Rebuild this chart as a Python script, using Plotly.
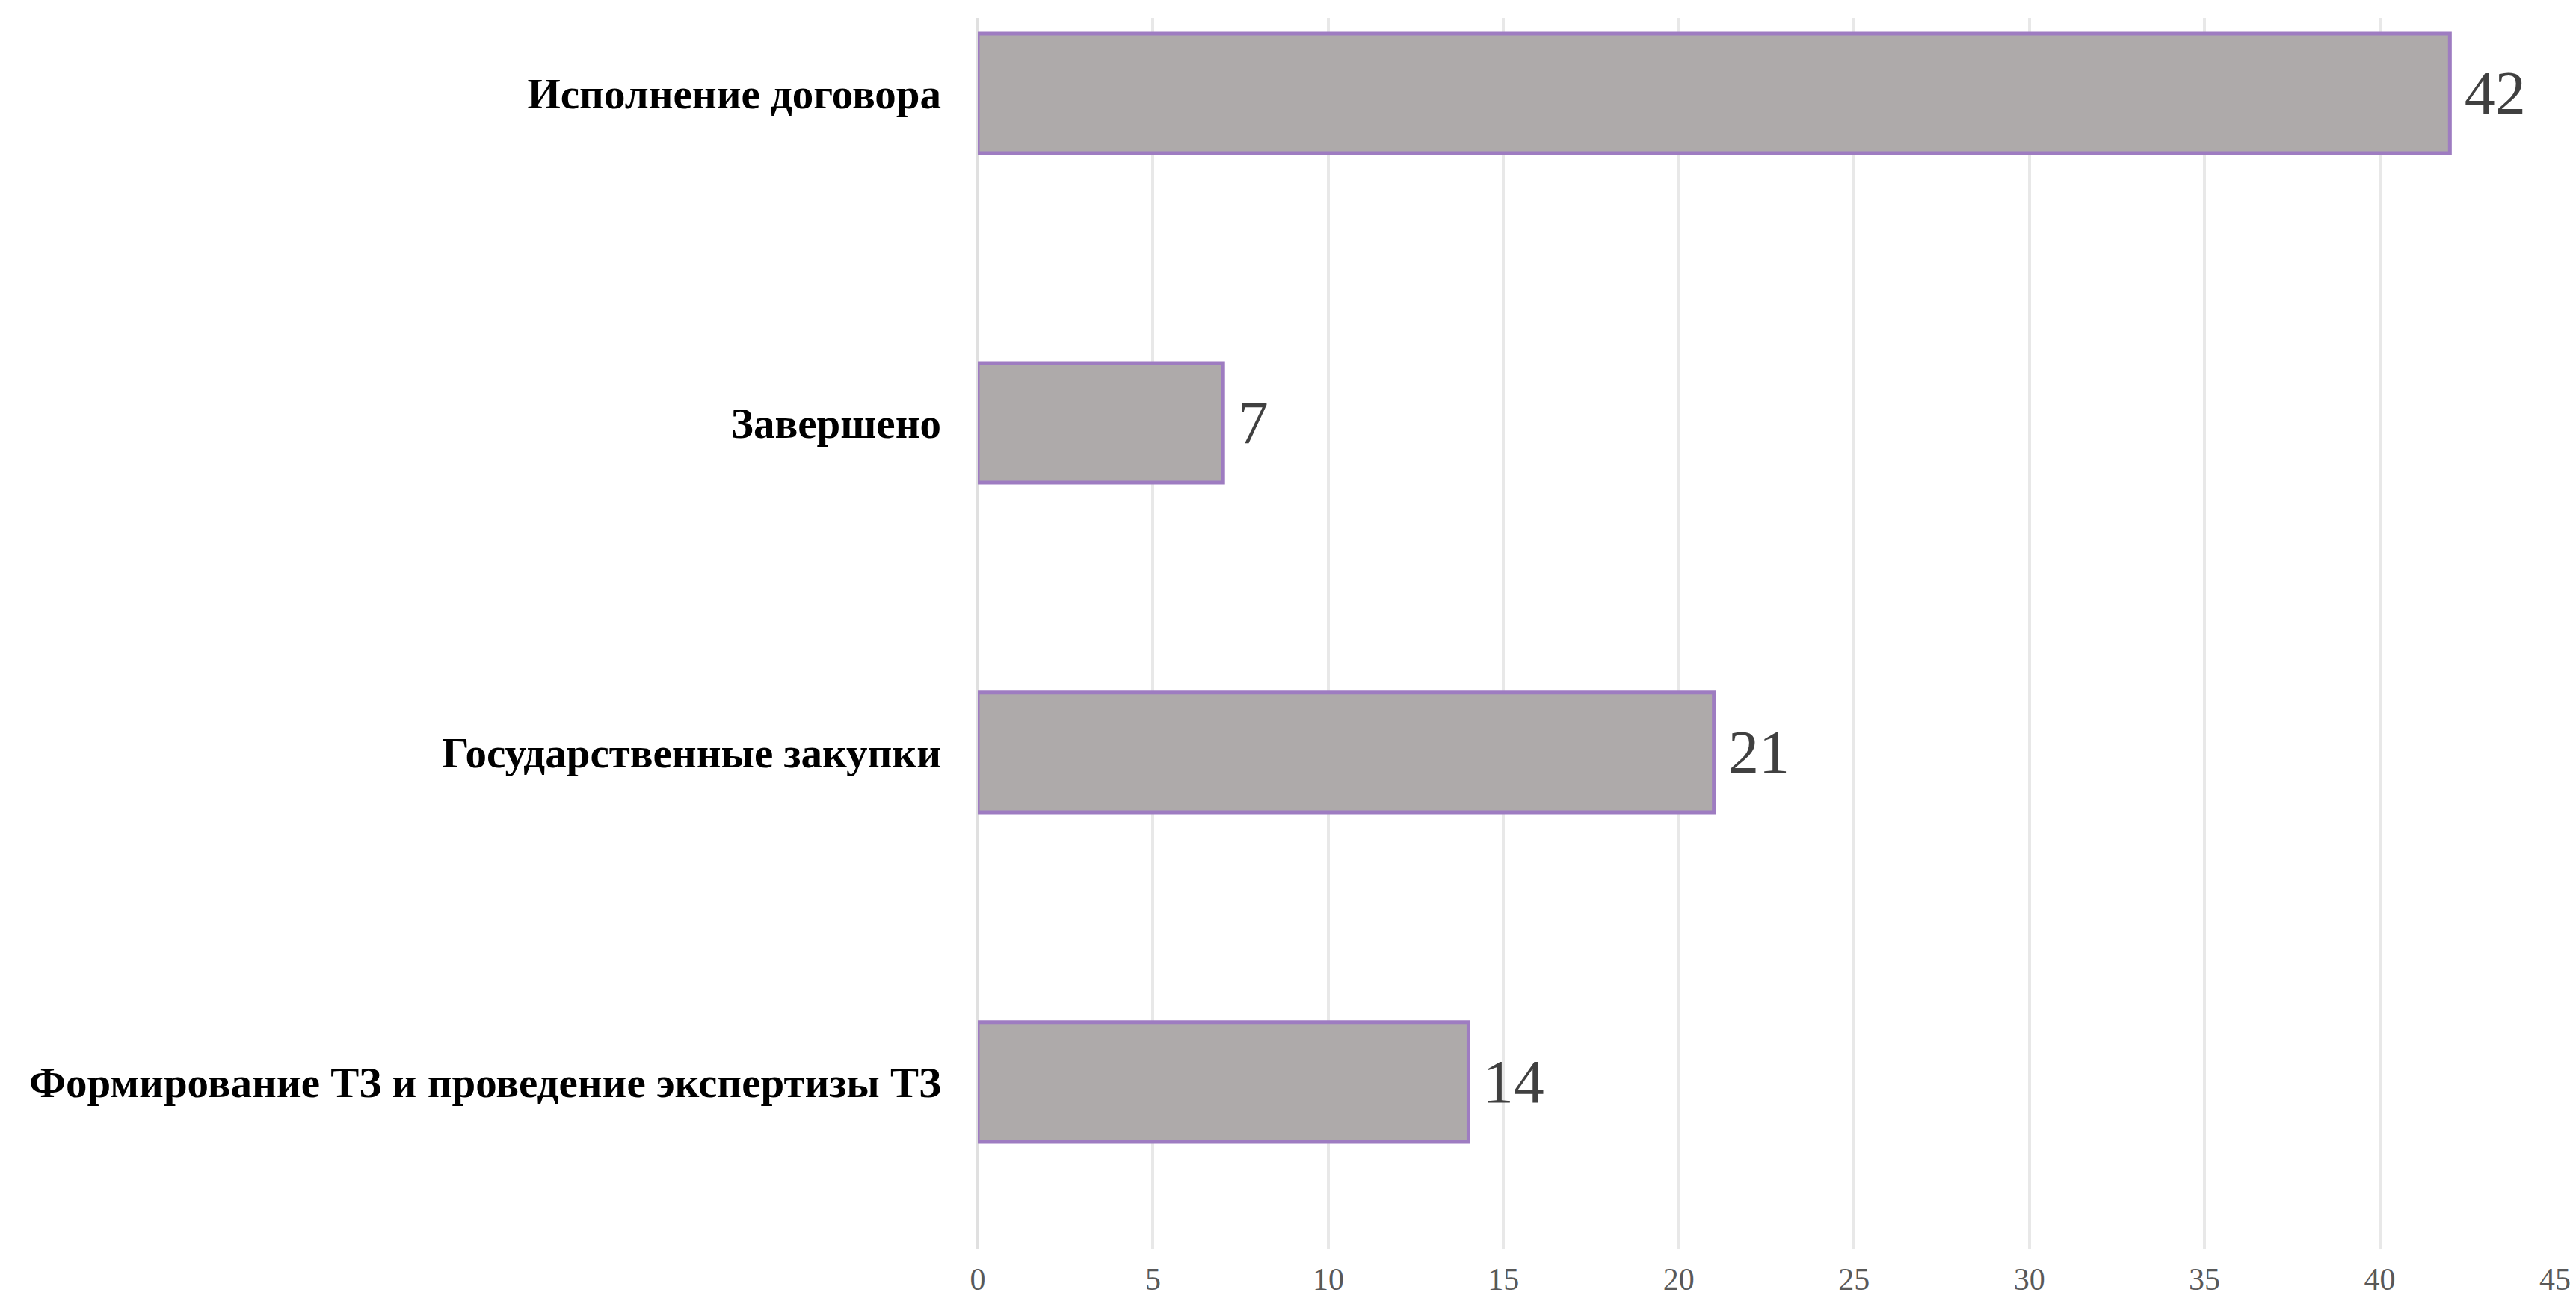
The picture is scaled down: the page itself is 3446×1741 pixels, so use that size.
import plotly.graph_objects as go

categories = [
    "Формирование ТЗ и проведение экспертизы ТЗ",
    "Государственные закупки",
    "Завершено",
    "Исполнение договора",
]
values = [14, 21, 7, 42]
x_ticks = [0, 5, 10, 15, 20, 25, 30, 35, 40, 45]

fig = go.Figure(
    go.Bar(
        y=categories,
        x=values,
        orientation="h",
        width=0.363,
        marker=dict(color="#aeaaaa", line=dict(color="#9e7cc1", width=5)),
        text=["\u2009" + str(v) for v in values],
        textposition="outside",
        textfont=dict(family="Liberation Serif", size=82, color="#404040"),
        cliponaxis=False,
    )
)

fig.update_layout(
    width=3446,
    height=1741,
    margin=dict(l=1300, r=36, t=16, b=78),
    plot_bgcolor="white",
    paper_bgcolor="white",
    showlegend=False,
)
fig.update_xaxes(
    range=[0, 45],
    tickvals=x_ticks,
    automargin=False,
    showgrid=True,
    gridcolor="#e8e8e8",
    gridwidth=4,
    zeroline=True,
    zerolinecolor="#e0e0e0",
    zerolinewidth=4,
    showline=False,
    ticks="",
    ticklabelstandoff=12,
    tickfont=dict(family="Liberation Serif", size=42, color="#595959"),
)
fig.update_yaxes(
    categoryorder="array",
    categoryarray=categories,
    range=[-0.506, 3.229],
    automargin=False,
    showgrid=False,
    zeroline=False,
    showline=False,
    ticks="",
    ticklabelstandoff=48,
    tickfont=dict(family="Liberation Serif", size=57, color="#000000", weight="bold"),
)

fig.write_html("out.html")
